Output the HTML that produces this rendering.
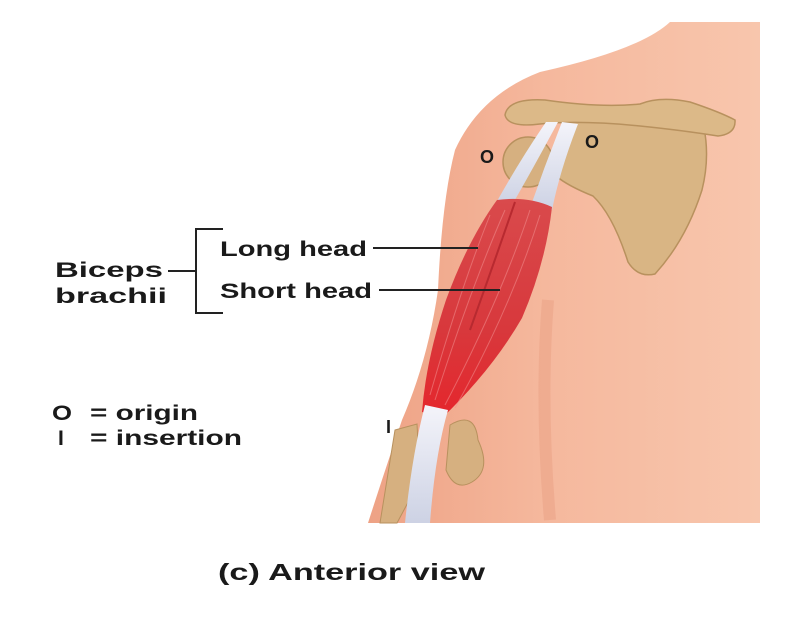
<!DOCTYPE html>
<html><head><style>
html,body{margin:0;padding:0;background:#fff;}
svg{display:block;}
text{font-family:"Liberation Sans",sans-serif;fill:#1a1a1a;font-weight:bold;}
</style></head><body>
<svg width="800" height="618" viewBox="0 0 800 618">
<defs>
<linearGradient id="skin" x1="0" y1="0" x2="1" y2="0">
<stop offset="0" stop-color="#eea285"/><stop offset="0.45" stop-color="#f5b89d"/><stop offset="1" stop-color="#f8c6ad"/>
</linearGradient>
<linearGradient id="musc" x1="0" y1="0" x2="0" y2="1">
<stop offset="0" stop-color="#d94a4c"/><stop offset="0.6" stop-color="#d8383c"/><stop offset="1" stop-color="#e5262c"/>
</linearGradient>
<linearGradient id="tend" x1="0" y1="0" x2="0" y2="1">
<stop offset="0" stop-color="#f4f4fa"/><stop offset="1" stop-color="#cdd2e4"/>
</linearGradient>
</defs>
<path d="M670,22 L760,22 L760,523 L368,523 Q385,470 402,420 Q428,360 438,290 Q442,200 455,150 Q480,95 540,72 Q640,50 670,22 Z" fill="url(#skin)"/>
<path d="M548,300 Q540,400 550,520" stroke="#e99d80" stroke-width="12" fill="none" opacity="0.45"/>
<!-- scapula -->
<path d="M570,118 Q620,108 700,112 Q712,150 702,190 Q686,240 655,274 Q638,278 628,262 Q613,215 593,196 Q568,186 556,176 Q552,140 570,118 Z" fill="#d9b584" stroke="#b8915e" stroke-width="1.5"/>
<!-- clavicle / acromion -->
<path d="M505,115 Q508,98 545,100 Q600,108 640,104 Q660,96 690,102 Q720,112 735,120 Q736,134 718,136 Q680,130 640,126 Q580,120 540,124 Q508,128 505,115 Z" fill="#dcb988" stroke="#b8915e" stroke-width="1.5"/>
<!-- humeral head -->
<circle cx="528" cy="162" r="25" fill="#d6b080" stroke="#b8915e" stroke-width="1.5"/>
<!-- tendons -->
<path d="M546,122 L558,122 Q535,165 512,205 L496,203 Q520,160 546,122 Z" fill="url(#tend)"/>
<path d="M562,122 L578,124 Q560,170 552,210 L530,208 Q545,165 562,122 Z" fill="url(#tend)"/>
<!-- muscle -->
<path d="M497,200 Q468,240 446,300 Q426,360 422,412 L442,418 Q492,370 522,318 Q546,262 552,207 Q528,196 497,200 Z" fill="url(#musc)"/>
<path d="M515,202 Q495,260 470,330" stroke="#b82a30" stroke-width="2" fill="none"/>
<g stroke="#f29090" stroke-width="1" opacity="0.55" fill="none">
<path d="M530,210 Q500,300 445,405"/><path d="M540,215 Q510,310 455,408"/><path d="M505,210 Q470,290 435,400"/><path d="M490,215 Q460,290 430,395"/>
</g>
<!-- elbow bones -->
<path d="M450,425 Q475,410 478,440 Q492,470 472,482 Q455,492 446,470 Z" fill="#d6b080" stroke="#b8915e"/>
<path d="M395,430 L417,424 L420,480 L397,523 L380,523 Z" fill="#d6b080" stroke="#b8915e"/>
<!-- lower tendon -->
<path d="M425,405 L448,410 Q435,455 430,523 L405,523 Q412,455 425,405 Z" fill="url(#tend)"/>
<!-- O / I labels -->
<text x="480" y="163" font-size="18">O</text>
<text x="585" y="148" font-size="18">O</text>
<text x="386" y="433" font-size="18">I</text>
<!-- labels -->
<g stroke="#222" stroke-width="2" fill="none">
<path d="M223,229 L196,229 L196,313 L223,313"/>
<line x1="168" y1="271" x2="196" y2="271"/>
<line x1="373" y1="248" x2="478" y2="248"/>
<line x1="379" y1="290" x2="500" y2="290"/>
</g>
<text x="220" y="256" font-size="21" textLength="147" lengthAdjust="spacingAndGlyphs" fill="#222">Long head</text>
<text x="220" y="298" font-size="21" textLength="152" lengthAdjust="spacingAndGlyphs" fill="#222">Short head</text>
<text x="55" y="277" font-size="21" textLength="108" lengthAdjust="spacingAndGlyphs">Biceps</text>
<text x="55" y="303" font-size="21" textLength="112" lengthAdjust="spacingAndGlyphs">brachii</text>
<text x="52" y="420" font-size="21" textLength="20" lengthAdjust="spacingAndGlyphs">O</text>
<text x="90" y="420" font-size="21" textLength="108" lengthAdjust="spacingAndGlyphs">= origin</text>
<text x="58" y="445" font-size="21">I</text>
<text x="90" y="445" font-size="21" textLength="152" lengthAdjust="spacingAndGlyphs">= insertion</text>
<text x="218" y="580" font-size="23" textLength="267" lengthAdjust="spacingAndGlyphs">(c) Anterior view</text>
</svg>
</body></html>
